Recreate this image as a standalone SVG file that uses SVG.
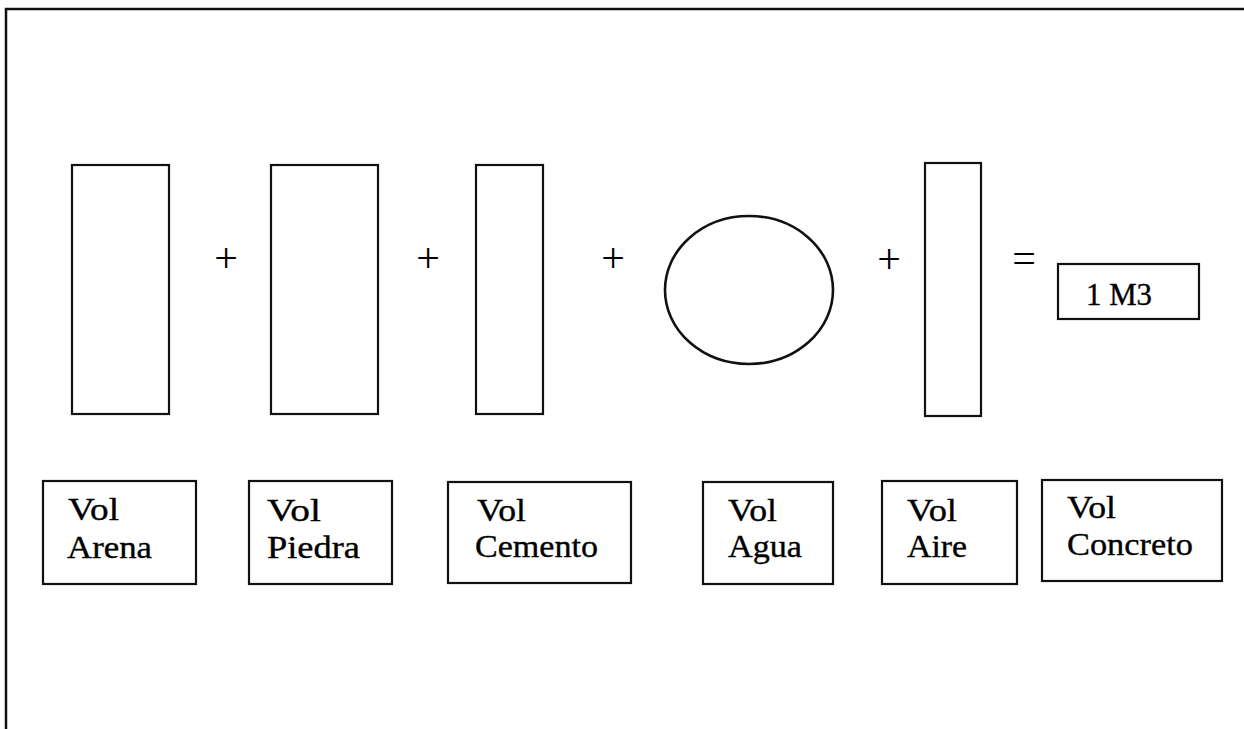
<svg xmlns="http://www.w3.org/2000/svg" width="1244" height="729" viewBox="0 0 1244 729">
  <style>
    .shape { fill: none; stroke: #111; stroke-width: 2.2; }
    .ring { fill: none; stroke: #111; stroke-width: 2.6; }
    .frame { fill: none; stroke: #111; stroke-width: 2.5; }
    .lbl { font-family: "Liberation Serif", "Times New Roman", serif; font-size: 31px; fill: #000; stroke: #000; stroke-width: 0.35; }
    .op { font-family: "Liberation Serif", "Times New Roman", serif; font-size: 42px; fill: #000; text-anchor: middle; }
  </style>
  <rect width="1244" height="729" fill="#fff"/>

  <!-- page frame: top and left rules -->
  <path class="frame" d="M6,729 V9 H1244"/>

  <!-- volume shapes -->
  <g id="arena"><rect class="shape" x="72" y="165" width="97" height="249"/></g>
  <g id="piedra"><rect class="shape" x="271" y="165" width="107" height="249"/></g>
  <g id="cemento"><rect class="shape" x="476" y="165" width="67" height="249"/></g>
  <g id="agua"><ellipse class="ring" cx="749" cy="290" rx="84" ry="74"/></g>
  <g id="aire"><rect class="shape" x="925" y="163" width="56" height="253"/></g>
  <g id="concreto">
    <rect class="shape" x="1058" y="264" width="141" height="55"/>
    <text class="lbl" x="1086" y="305" textLength="66" lengthAdjust="spacingAndGlyphs">1 M3</text>
  </g>

  <!-- operators -->
  <g id="operators">
    <text class="op" x="226" y="272">+</text>
    <text class="op" x="428" y="272">+</text>
    <text class="op" x="613" y="272">+</text>
    <text class="op" x="889" y="273">+</text>
    <text class="op" x="1024" y="272">=</text>
  </g>

  <!-- label boxes -->
  <g id="lbl-arena">
    <rect class="shape" x="43" y="481" width="153" height="103"/>
    <text class="lbl" x="68" y="520" textLength="51" lengthAdjust="spacingAndGlyphs">Vol</text>
    <text class="lbl" x="67" y="558" textLength="85" lengthAdjust="spacingAndGlyphs">Arena</text>
  </g>
  <g id="lbl-piedra">
    <rect class="shape" x="249" y="481" width="143" height="103"/>
    <text class="lbl" x="267" y="521" textLength="54" lengthAdjust="spacingAndGlyphs">Vol</text>
    <text class="lbl" x="267" y="558" textLength="93" lengthAdjust="spacingAndGlyphs">Piedra</text>
  </g>
  <g id="lbl-cemento">
    <rect class="shape" x="448" y="482" width="183" height="101"/>
    <text class="lbl" x="477" y="521" textLength="49" lengthAdjust="spacingAndGlyphs">Vol</text>
    <text class="lbl" x="475" y="557" textLength="123" lengthAdjust="spacingAndGlyphs">Cemento</text>
  </g>
  <g id="lbl-agua">
    <rect class="shape" x="703" y="482" width="130" height="102"/>
    <text class="lbl" x="728" y="521" textLength="49" lengthAdjust="spacingAndGlyphs">Vol</text>
    <text class="lbl" x="728" y="557" textLength="74" lengthAdjust="spacingAndGlyphs">Agua</text>
  </g>
  <g id="lbl-aire">
    <rect class="shape" x="882" y="481" width="135" height="103"/>
    <text class="lbl" x="907" y="521" textLength="50" lengthAdjust="spacingAndGlyphs">Vol</text>
    <text class="lbl" x="907" y="557" textLength="60" lengthAdjust="spacingAndGlyphs">Aire</text>
  </g>
  <g id="lbl-concreto">
    <rect class="shape" x="1042" y="480" width="180" height="101"/>
    <text class="lbl" x="1067" y="518" textLength="49" lengthAdjust="spacingAndGlyphs">Vol</text>
    <text class="lbl" x="1067" y="555" textLength="126" lengthAdjust="spacingAndGlyphs">Concreto</text>
  </g>

  <!-- no connectors in this figure -->
  <g id="connectors"/>
</svg>
